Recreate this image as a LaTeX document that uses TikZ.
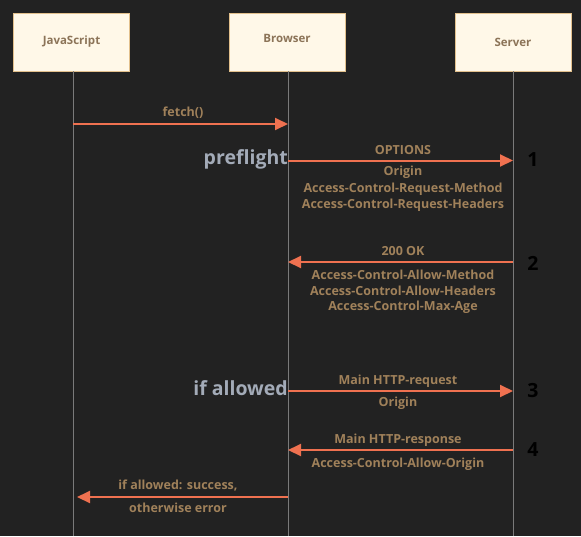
\documentclass[tikz,border=0pt]{standalone}
\usepackage{fontspec}
\setmainfont{Open Sans}
\usetikzlibrary{arrows.meta}
\definecolor{bg}{HTML}{222222}
\definecolor{boxfill}{HTML}{FFF8E8}
\definecolor{boxline}{HTML}{E2C08C}
\definecolor{boxtext}{HTML}{8C7458}
\definecolor{lbl}{HTML}{A0815A}
\definecolor{arrowc}{HTML}{EF7150}
\definecolor{lifec}{HTML}{7A7A7A}
\definecolor{phase}{HTML}{A3ABB8}
\tikzset{
  actor/.style={draw=boxline, line width=1pt, fill=boxfill, minimum width=116pt, minimum height=58pt, inner sep=0pt, text=boxtext, font=\fontsize{11.5}{13}\selectfont\bfseries},
  life/.style={draw=lifec, line width=1pt},
  msg/.style={draw=arrowc, line width=2pt, -{Triangle[length=13pt,width=12pt]}},
  lab/.style={text=lbl, font=\fontsize{12.5}{14}\selectfont\bfseries, inner sep=0pt, align=center},
  phaselab/.style={text=phase, font=\fontsize{19.5}{22}\selectfont\bfseries, inner sep=0pt, anchor=east},
  num/.style={text=black, font=\fontsize{19.5}{22}\selectfont\bfseries, inner sep=0pt},
}
\begin{document}
\begin{tikzpicture}[x=1pt,y=-1pt]
\fill[bg] (0,0) rectangle (581,536);
\useasboundingbox (0,0) rectangle (581,536);
% actors
\node[actor] (js) at (71.5,42) {JavaScript};
\node[actor] (br) at (287,42) {};
\node[text=boxtext, font=\fontsize{11.5}{13}\selectfont\bfseries] (brt) at (287,38) {Browser};
\node[actor] (sv) at (513,42) {Server};
% lifelines
\coordinate (jsb) at (73,536);
\coordinate (brb) at (288,536);
\coordinate (svb) at (513,536);
\draw[life] (73,71) -- (jsb);
\draw[life] (288,71) -- (brb);
\draw[life] (513,71) -- (svb);
% points on lifelines
\coordinate (j1) at (73,124);  \coordinate (b1) at (288,124);
\coordinate (b2) at (288,160.5); \coordinate (s2) at (513,160.5);
\coordinate (b3) at (288,262); \coordinate (s3) at (513,262);
\coordinate (b4) at (288,391); \coordinate (s4) at (513,391);
\coordinate (b5) at (288,450); \coordinate (s5) at (513,450);
\coordinate (b6) at (288,497); \coordinate (j6) at (77,497);
% messages
\draw[msg] (j1) -- (b1);
\node[lab] (t1) at (183,112.5) {fetch()};
\draw[msg] (b2) -- (s2);
\node[lab] (t2a) at (403,150.5) {OPTIONS};
\node[lab] (t2b) at (403,172.5) {Origin};
\node[lab] (t2c) at (403,189) {Access-Control-Request-Method};
\node[lab] (t2d) at (403,205.5) {Access-Control-Request-Headers};
\node[phaselab] (p1) at (288,159.5) {preflight};
\node[num] (n1) at (533,160) {1};
\draw[msg] (s3) -- (b3);
\node[lab] (t3a) at (403,251.5) {200 OK};
\node[lab] (t3b) at (403,274.5) {Access-Control-Allow-Method};
\node[lab] (t3c) at (403,291) {Access-Control-Allow-Headers};
\node[lab] (t3d) at (403,307.5) {Access-Control-Max-Age};
\node[num] (n2) at (533,263) {2};
\draw[msg] (b4) -- (s4);
\node[lab] (t4a) at (398,381.5) {Main HTTP-request};
\node[lab] (t4b) at (398,403.5) {Origin};
\node[phaselab] (p2) at (288,388) {if allowed};
\node[num] (n3) at (533,391) {3};
\draw[msg] (s5) -- (b5);
\node[lab] (t5a) at (398,440.5) {Main HTTP-response};
\node[lab] (t5b) at (398,464.5) {Access-Control-Allow-Origin};
\node[num] (n4) at (533,450) {4};
\draw[msg] (b6) -- (j6);
\node[lab] (t6a) at (178,485.5) {if allowed: success,};
\node[lab] (t6b) at (178,507.5) {otherwise error};
\end{tikzpicture}
\end{document}
